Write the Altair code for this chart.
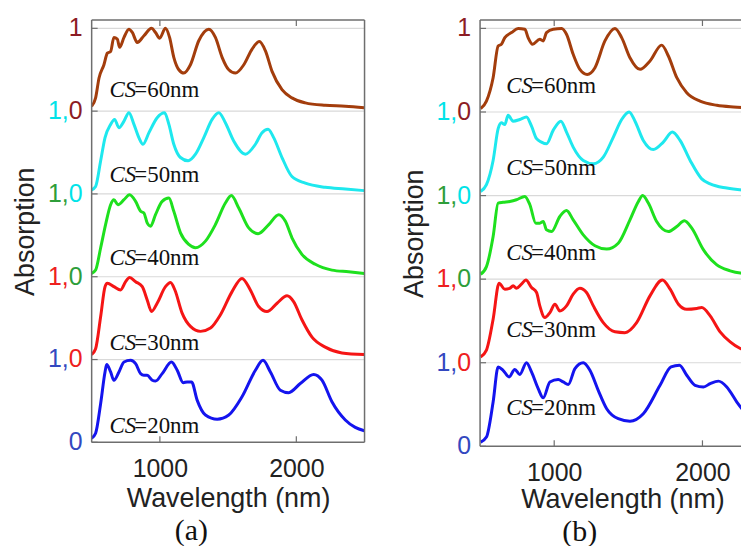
import altair as alt
import pandas as pd

# ---------------- data: panel (a) ----------------
a20_wl = [500, 529, 566, 598, 610, 639, 663, 700, 737, 785, 822, 859, 883, 907, 944, 968, 1017, 1085, 1127, 1171, 1200, 1232, 1273, 1334, 1420, 1505, 1602, 1700, 1756, 1810, 1883, 1944, 2029, 2127, 2188, 2261, 2359, 2432, 2498]
a20_ab = [.05, .11, .47, .85, .94, .85, .75, .85, .97, .99, .95, .83, .81, .81, .75, .74, .83, .97, .87, .72, .73, .73, .51, .33, .28, .33, .55, .87, .99, .85, .63, .60, .71, .82, .75, .49, .27, .18, .14]
a30_wl = [500, 529, 566, 598, 615, 663, 712, 749, 778, 822, 871, 907, 939, 980, 1041, 1078, 1110, 1163, 1224, 1298, 1371, 1444, 1529, 1602, 1663, 1724, 1785, 1859, 1932, 1980, 2041, 2115, 2212, 2334, 2498]
a30_ab = [.06, .13, .52, .88, .92, .88, .84, .94, .99, .94, .88, .72, .58, .68, .88, .93, .84, .56, .40, .34, .38, .54, .82, .98, .84, .64, .58, .68, .77, .70, .48, .27, .15, .08, .06]
a40_wl = [500, 529, 566, 602, 639, 663, 693, 737, 778, 822, 859, 883, 907, 932, 968, 1017, 1066, 1102, 1151, 1212, 1261, 1334, 1407, 1480, 1524, 1578, 1651, 1720, 1798, 1871, 1920, 1968, 2041, 2139, 2261, 2383, 2498]
a40_ab = [.04, .08, .35, .63, .87, .93, .87, .93, .99, .91, .79, .77, .65, .61, .75, .91, .95, .79, .53, .39, .35, .43, .63, .89, .98, .83, .59, .52, .63, .75, .67, .47, .27, .15, .08, .06, .04]
a50_wl = [500, 529, 566, 598, 639, 668, 700, 737, 773, 810, 846, 876, 920, 980, 1034, 1066, 1102, 1151, 1207, 1261, 1322, 1383, 1432, 1480, 1541, 1627, 1700, 1749, 1793, 1834, 1895, 1968, 2066, 2212, 2359, 2498]
a50_ab = [.05, .09, .40, .68, .84, .90, .80, .88, .98, .84, .68, .60, .74, .92, .98, .84, .60, .44, .40, .48, .68, .90, .98, .86, .64, .48, .60, .74, .78, .68, .44, .21, .13, .08, .06, .04]
a60_wl = [500, 529, 554, 590, 615, 639, 663, 688, 705, 737, 773, 798, 834, 883, 939, 968, 998, 1041, 1071, 1102, 1139, 1176, 1224, 1285, 1359, 1407, 1456, 1505, 1554, 1615, 1676, 1729, 1773, 1822, 1895, 1968, 2066, 2212, 2359, 2498]
a60_ab = [.06, .16, .40, .56, .70, .72, .89, .87, .77, .89, .99, .95, .83, .91, 1.0, .95, .88, 1.0, .89, .65, .50, .46, .56, .85, .99, .89, .65, .50, .46, .56, .75, .84, .73, .48, .26, .16, .10, .07, .06, .04]

# ---------------- data: panel (b) ----------------
b20_wl = [504, 543, 588, 622, 655, 696, 734, 768, 813, 847, 892, 926, 971, 1027, 1061, 1095, 1140, 1196, 1241, 1297, 1354, 1432, 1511, 1601, 1714, 1788, 1845, 1894, 1950, 2007, 2052, 2108, 2164, 2232, 2311]
b20_ab = [.05, .11, .53, .95, .91, .83, .92, .86, 1.0, .89, .69, .58, .77, .80, .77, .74, .93, 1.0, .91, .67, .45, .33, .30, .39, .73, .95, .97, .85, .73, .71, .75, .78, .71, .53, .35]
b30_wl = [504, 543, 588, 628, 667, 700, 723, 745, 779, 809, 847, 881, 903, 937, 971, 1005, 1038, 1083, 1128, 1173, 1218, 1264, 1331, 1410, 1477, 1556, 1646, 1730, 1782, 1838, 1894, 1962, 1995, 2052, 2119, 2187, 2255, 2311]
b30_ab = [.07, .15, .52, .95, .88, .89, .92, .89, .94, .99, .90, .84, .68, .54, .60, .70, .62, .68, .82, .89, .84, .68, .48, .37, .36, .48, .80, .99, .88, .70, .64, .65, .66, .56, .37, .25, .17, .13]
b40_wl = [504, 543, 588, 622, 655, 700, 745, 802, 836, 876, 903, 926, 948, 982, 1038, 1083, 1128, 1196, 1275, 1354, 1432, 1511, 1568, 1597, 1635, 1691, 1770, 1827, 1878, 1928, 2007, 2097, 2187, 2311]
b40_ab = [.06, .15, .51, .91, .92, .93, .95, .99, .89, .67, .67, .69, .59, .57, .75, .82, .71, .53, .40, .36, .43, .71, .93, 1.0, .91, .69, .57, .63, .70, .61, .35, .17, .10, .06]
b50_wl = [504, 543, 588, 622, 644, 667, 689, 723, 768, 813, 847, 881, 914, 948, 993, 1045, 1083, 1128, 1196, 1264, 1331, 1399, 1455, 1505, 1545, 1601, 1669, 1736, 1797, 1849, 1917, 1995, 2052, 2164, 2311]
b50_ab = [.05, .13, .42, .80, .87, .85, .96, .89, .91, .94, .83, .68, .64, .62, .78, .89, .76, .58, .42, .38, .46, .70, .91, 1.0, .89, .66, .55, .64, .76, .66, .42, .20, .14, .09, .06]
b60_wl = [504, 543, 588, 622, 644, 667, 712, 757, 802, 824, 854, 903, 926, 948, 993, 1050, 1083, 1128, 1173, 1223, 1275, 1342, 1410, 1455, 1511, 1579, 1646, 1725, 1770, 1827, 1894, 1984, 2097, 2209, 2311]
b60_ab = [.04, .13, .41, .79, .81, .89, .95, 1.0, .99, .89, .81, .87, .85, .95, .99, 1.0, .93, .69, .51, .45, .53, .85, 1.0, .89, .65, .51, .61, .80, .67, .41, .23, .13, .08, .06, .05]

series_names = ["CS=20nm", "CS=30nm", "CS=40nm", "CS=50nm", "CS=60nm"]
series_offsets = [0, 1, 2, 3, 4]
curve_colors = ["#1414ee", "#f51515", "#1ee01e", "#1ee8ee", "#a33d0c"]

# y-axis label pieces
tick_values = [0, 1, 2, 3, 4, 5]
label_low_text = ["0", "0", "0", "0", "0", "1"]
label_low_color = ["#3348c0", "#ee2020", "#2e9e3a", "#00e3e8", "#8c1c24", "#8c1c24"]
label_high_text = ["", "1,", "1,", "1,", "1,", ""]
label_high_color = ["#3348c0", "#3348c0", "#ee2020", "#2e9e3a", "#00e3e8", "#8c1c24"]

cs_prefix = "CS"
cs_suffix = ["=20nm", "=30nm", "=40nm", "=50nm", "=60nm"]
cs_a_x = 630
cs_a_y = [0.11, 1.115, 2.145, 3.15, 4.165]
cs_b_x = 676
cs_b_y = [0.37, 1.305, 2.23, 3.245, 4.23]

x_ticks = [1000, 2000]
FONT = "Liberation Sans"
SERIF = "Liberation Serif"
FRAME = "#6e6e6e"


def build_panel(curves, xmax, width, height, cs_x, cs_y, tag, tag_dy, right_frame, title_size, title_dx, title_pad):
    rows = []
    for name, off, (wl, ab) in zip(series_names, series_offsets, curves):
        for w, v in zip(wl, ab):
            rows.append({"series": name, "wl": w, "ab": v, "off": off})
    df = pd.DataFrame(rows)
    xs = alt.Scale(domain=[500, xmax], nice=False, zero=False)
    ys = alt.Scale(domain=[0, 5.1], nice=False, zero=False)
    x_axis = alt.Axis(
        values=x_ticks, format="d", domain=False, ticks=False, grid=False,
        labelFontSize=25, labelFont=FONT, labelColor="#222", labelPadding=14,
        title="Wavelength (nm)", titleFont=FONT, titleFontSize=title_size,
        titleFontWeight="normal", titleColor="#222", titlePadding=title_pad,
        titleX=width / 2 + title_dx)
    y_axis = alt.Axis(
        labels=False, ticks=False, domain=False, grid=False,
        title="Absorption", titleFont=FONT, titleFontSize=27,
        titleFontWeight="normal", titleColor="#222", titlePadding=52)

    def X():
        return alt.X("wl:Q", scale=xs, axis=x_axis)

    def Y():
        return alt.Y("y:Q", scale=ys, axis=y_axis)

    grid = alt.Chart(pd.DataFrame({"y": tick_values[1:]})).mark_rule(
        color="#d9d9d9", strokeWidth=1.2).encode(y=Y())

    curves_layer = alt.Chart(df).transform_calculate(
        y="datum.off + datum.ab"
    ).mark_line(strokeWidth=3, clip=True, interpolate="monotone").encode(
        x=X(), y=Y(),
        color=alt.Color("series:N", scale=alt.Scale(domain=series_names, range=curve_colors), legend=None),
        detail="series:N",
    )

    tick_df = pd.DataFrame({"wl": x_ticks})
    top_ticks = alt.Chart(tick_df).mark_rule(color=FRAME, strokeWidth=1.2).encode(
        x=X(), y=alt.value(0), y2=alt.value(6))
    bot_ticks = alt.Chart(tick_df).mark_rule(color=FRAME, strokeWidth=1.2).encode(
        x=X(), y=alt.value(height - 6), y2=alt.value(height))
    y_ticks = alt.Chart(pd.DataFrame({"y": tick_values})).mark_rule(color=FRAME, strokeWidth=1.2).encode(
        y=Y(), x=alt.value(0), x2=alt.value(6))

    one = pd.DataFrame({"k": [0]})
    frame_top = alt.Chart(one).mark_rule(color=FRAME, strokeWidth=1.5).encode(
        y=alt.value(0), x=alt.value(0), x2=alt.value(width))
    frame_bot = alt.Chart(one).mark_rule(color=FRAME, strokeWidth=1.5).encode(
        y=alt.value(height), x=alt.value(0), x2=alt.value(width))
    frame_left = alt.Chart(one).mark_rule(color=FRAME, strokeWidth=1.5).encode(
        x=alt.value(0), y=alt.value(0), y2=alt.value(height))
    layers = [grid, curves_layer, top_ticks, bot_ticks, y_ticks, frame_top, frame_bot, frame_left]
    if right_frame:
        layers.append(alt.Chart(one).mark_rule(color=FRAME, strokeWidth=1.5).encode(
            x=alt.value(width), y=alt.value(0), y2=alt.value(height)))

    lab_df = pd.DataFrame({"y": tick_values, "lo": label_low_text, "loc": label_low_color,
                           "hi": label_high_text, "hic": label_high_color})
    lab_lo = alt.Chart(lab_df).mark_text(align="right", baseline="middle", font=FONT, fontSize=25).encode(
        y=Y(), x=alt.value(-9), text="lo:N", color=alt.Color("loc:N", scale=None))
    lab_hi = alt.Chart(lab_df).mark_text(align="right", baseline="middle", font=FONT, fontSize=25).encode(
        y=Y(), x=alt.value(-23), text="hi:N", color=alt.Color("hic:N", scale=None))

    cs_df = pd.DataFrame({"wl": [cs_x] * 5, "y": cs_y, "suf": cs_suffix, "pre": [cs_prefix] * 5})
    cs_pre = alt.Chart(cs_df).mark_text(align="left", baseline="alphabetic", font=SERIF, fontSize=23,
                                        fontStyle="italic", color="#111").encode(
        x=X(), y=Y(), text="pre:N")
    cs_suf = alt.Chart(cs_df).mark_text(align="left", baseline="alphabetic", font=SERIF, fontSize=23,
                                        dx=25, color="#111").encode(
        x=X(), y=Y(), text="suf:N")

    tag_layer = alt.Chart(pd.DataFrame({"tag": [tag]})).mark_text(
        align="center", baseline="alphabetic", font=SERIF, fontSize=30, color="#111").encode(
        x=alt.value(100), y=alt.value(height + tag_dy), text="tag:N")

    layers += [lab_lo, lab_hi, cs_pre, cs_suf, tag_layer]
    return alt.layer(*layers).properties(width=width, height=height)


panel_a = build_panel(
    [(a20_wl, a20_ab), (a30_wl, a30_ab), (a40_wl, a40_ab), (a50_wl, a50_ab), (a60_wl, a60_ab)],
    2500, 274, 424, cs_a_x, cs_a_y, "(a)", 98, True, 27, 0, 4)
panel_b = build_panel(
    [(b20_wl, b20_ab), (b30_wl, b30_ab), (b40_wl, b40_ab), (b50_wl, b50_ab), (b60_wl, b60_ab)],
    2260, 262, 428, cs_b_x, cs_b_y, "(b)", 95, False, 27, 12, 1)

chart = alt.hconcat(panel_a, panel_b, spacing=116, bounds="flush").properties(
    padding={"left": 4, "top": 7, "right": 0, "bottom": 0}
).configure(font=FONT, view=alt.ViewConfig(stroke=None))

chart.save("out.html", embed_options={"renderer": "svg", "actions": False})
